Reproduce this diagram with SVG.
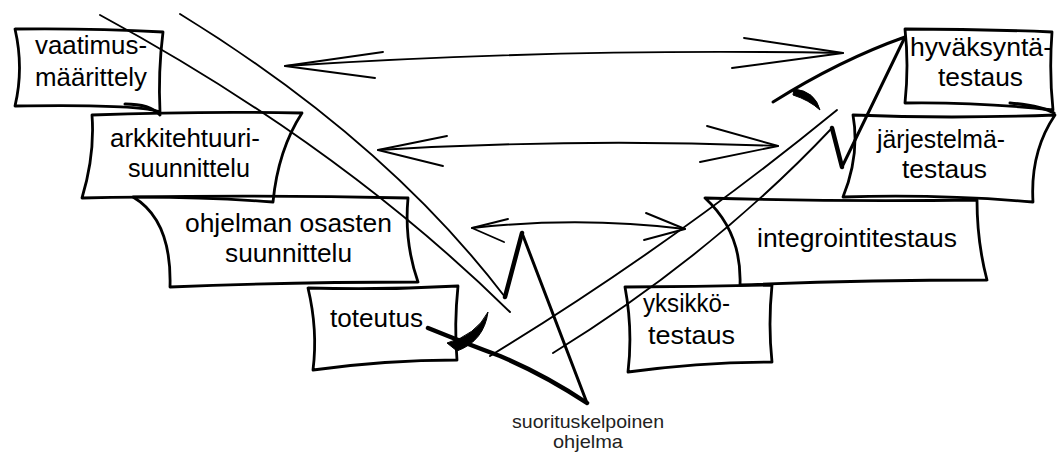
<svg xmlns="http://www.w3.org/2000/svg" width="1057" height="455" viewBox="0 0 1057 455">
<style>
.box{fill:none;stroke:#000;stroke-width:2.8;stroke-linejoin:round;stroke-linecap:round}
.t{font-family:"Liberation Sans",Arial,sans-serif;font-size:26px;fill:#000}
.s{font-family:"Liberation Sans",Arial,sans-serif;font-size:19px;fill:#222}
.ln{fill:none;stroke:#000;stroke-width:1.9;stroke-linecap:round;stroke-linejoin:round}
.thick{fill:none;stroke:#000;stroke-width:4.5;stroke-linecap:round;stroke-linejoin:round}
.mid{fill:none;stroke:#000;stroke-width:3;stroke-linecap:round;stroke-linejoin:round}
.blob{fill:#000;stroke:#000;stroke-width:1;stroke-linejoin:round}
</style>
<rect width="1057" height="455" fill="#fff"/>
<g id="connectors">
  <!-- top double arrow -->
  <path class="ln" d="M285,66 Q560,48 843,53"/>
  <path class="ln" d="M383,52 L285,66 L375,78"/>
  <path class="ln" d="M744,38 L843,53 L732,68"/>
  <!-- middle double arrow -->
  <path class="ln" d="M378,150 Q580,138 778,146"/>
  <path class="ln" d="M447,136 L378,150 L443,166"/>
  <path class="ln" d="M707,126 L778,146 L700,162"/>
  <!-- bottom double arrow -->
  <path class="ln" d="M472,228 Q580,216 685,229"/>
  <path class="ln" d="M508,219 L472,228 L504,242"/>
  <path class="ln" d="M646,213 L685,229 L644,240"/>
  <!-- left big arrow (down) -->
  <path class="ln" d="M100,15 Q340,145 510,312"/>
  <path class="ln" d="M180,14 Q385,140 505,297"/>
  <path class="thick" d="M505,297 L522,233"/>
  <path class="mid" d="M522,233 L587,403"/>
  <path class="thick" d="M428,328 Q470,345 500,356 Q545,375 587,403"/>
  <path class="blob" d="M447,343 Q476,335 488,312 Q484,341 457,351 Z"/>
  <!-- right big arrow (up) -->
  <path class="ln" d="M490,356 Q672,245 837,110"/>
  <path class="ln" d="M553,353 Q712,255 832,128"/>
  <path class="thick" d="M832,128 L842,167"/>
  <path class="mid" d="M842,167 L905,37"/>
  <path class="mid" d="M905,37 Q840,60 773,102"/>
  <path class="blob" d="M794,89 Q815,91 820,110 Q809,100 793,95 Z"/>
</g>
<g id="n1">
  <path class="box" d="M15,29 Q90,28 163,32 Q158,72 160,112 Q140,104 15,106 Q24,68 15,29 Z"/>
  <path class="mid" d="M125,104 Q150,104 160,115"/>
  <text class="t" x="35" y="54" textLength="112" lengthAdjust="spacingAndGlyphs">vaatimus-</text>
  <text class="t" x="35" y="86" textLength="112" lengthAdjust="spacingAndGlyphs">määrittely</text>
</g>
<g id="n2">
  <path class="box" d="M92,115 Q200,111 302,113 Q278,150 273,202 Q180,195 82,198 Q95,155 92,115 Z"/>
  <text class="t" x="110" y="147" textLength="150" lengthAdjust="spacingAndGlyphs">arkkitehtuuri-</text>
  <text class="t" x="128" y="177" textLength="122" lengthAdjust="spacingAndGlyphs">suunnittelu</text>
</g>
<g id="n3">
  <path class="box" d="M133,197 Q270,195 408,198 Q404,242 418,282 Q290,282 170,287 Q172,220 133,197 Z"/>
  <text class="t" x="185" y="232" textLength="207" lengthAdjust="spacingAndGlyphs">ohjelman osasten</text>
  <text class="t" x="225" y="262" textLength="127" lengthAdjust="spacingAndGlyphs">suunnittelu</text>
</g>
<g id="n4">
  <path class="box" d="M308,288 Q385,290 458,286 Q454,325 457,360 Q385,360 313,370 Q318,330 308,288 Z"/>
  <text class="t" x="330" y="327" textLength="93" lengthAdjust="spacingAndGlyphs">toteutus</text>
</g>
<g id="n5">
  <path class="box" d="M905,29 Q980,29 1052,32 Q1049,72 1053,110 Q980,102 905,103 Q909,65 905,29 Z"/>
  <path class="mid" d="M1010,103 Q1042,106 1054,113"/>
  <text class="t" x="910" y="56" textLength="142" lengthAdjust="spacingAndGlyphs">hyväksyntä-</text>
  <text class="t" x="938" y="86" textLength="85" lengthAdjust="spacingAndGlyphs">testaus</text>
</g>
<g id="n6">
  <path class="box" d="M853,115 Q950,119 1055,115 Q1030,152 1033,202 Q940,194 843,197 Q860,155 853,115 Z"/>
  <text class="t" x="877" y="148" textLength="128" lengthAdjust="spacingAndGlyphs">järjestelmä-</text>
  <text class="t" x="902" y="178" textLength="85" lengthAdjust="spacingAndGlyphs">testaus</text>
</g>
<g id="n7">
  <path class="box" d="M705,198 Q840,202 977,200 Q977,242 987,280 Q860,280 740,285 Q742,232 705,198 Z"/>
  <text class="t" x="757" y="247" textLength="200" lengthAdjust="spacingAndGlyphs">integrointitestaus</text>
</g>
<g id="n8">
  <path class="box" d="M625,287 Q700,287 772,285 Q768,325 772,362 Q700,362 628,372 Q633,330 625,287 Z"/>
  <text class="t" x="643" y="312" textLength="87" lengthAdjust="spacingAndGlyphs">yksikkö-</text>
  <text class="t" x="648" y="344" textLength="87" lengthAdjust="spacingAndGlyphs">testaus</text>
</g>
<g id="n9">
  <text class="s" x="512" y="428" textLength="152" lengthAdjust="spacingAndGlyphs">suorituskelpoinen</text>
  <text class="s" x="553" y="448" textLength="70" lengthAdjust="spacingAndGlyphs">ohjelma</text>
</g>
</svg>
